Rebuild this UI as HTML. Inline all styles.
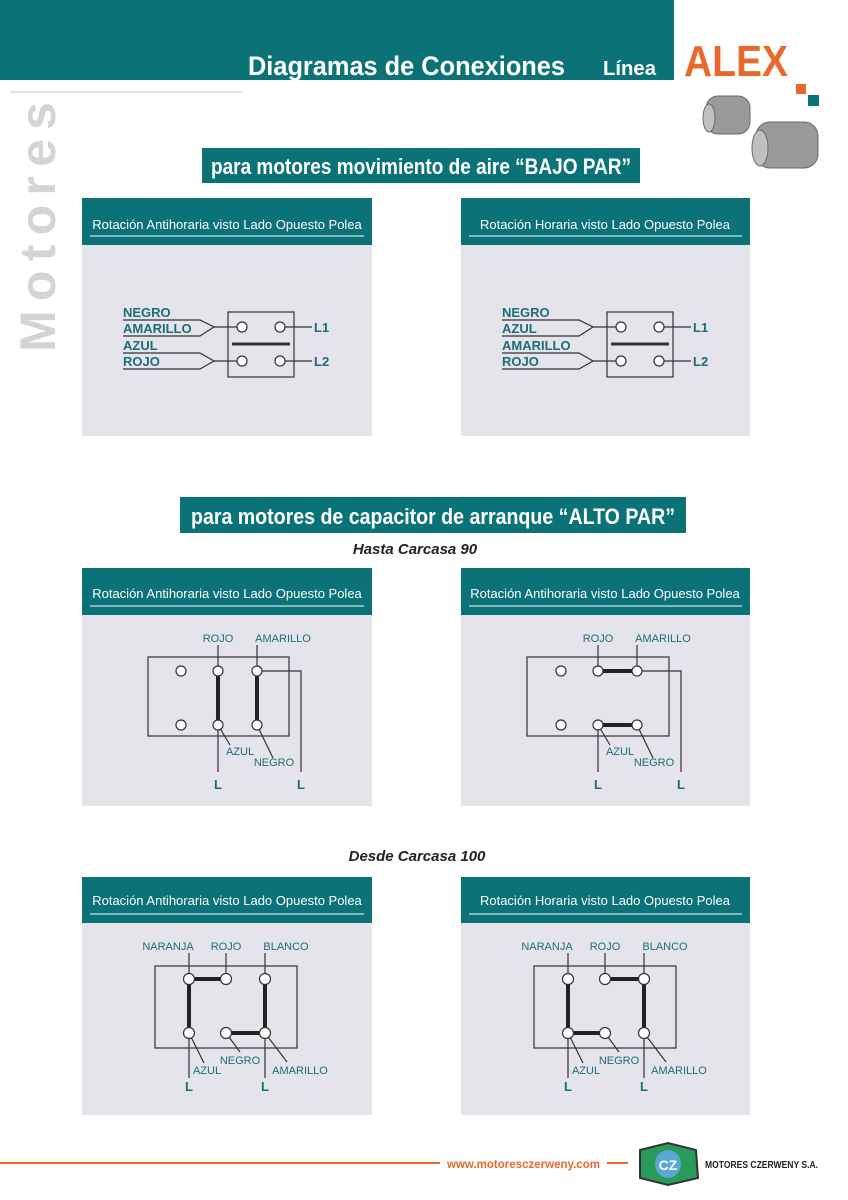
<!DOCTYPE html>
<html><head><meta charset="utf-8"><style>
html,body{margin:0;padding:0;background:#fff}
svg{display:block}
.h{font-family:"Liberation Sans",sans-serif;font-size:13px;fill:#fff}
.lb{font-family:"Liberation Sans",sans-serif;font-size:11px;fill:#1d6e78}
.lbb{font-family:"Liberation Sans",sans-serif;font-size:13px;font-weight:bold;fill:#1d6e78}
.tt{font-family:"Liberation Sans",sans-serif;font-weight:bold;fill:#fff}
</style></head><body>
<svg width="848" height="1200" viewBox="0 0 848 1200" xmlns="http://www.w3.org/2000/svg">
<rect width="848" height="1200" fill="#fff"/>
<!-- header -->
<rect x="0" y="0" width="674" height="80" fill="#0b7278"/>
<text x="248" y="75" class="tt" font-size="27" textLength="317" lengthAdjust="spacingAndGlyphs">Diagramas de Conexiones</text>
<text x="603" y="75" class="tt" font-size="20" textLength="53" lengthAdjust="spacingAndGlyphs">Línea</text>
<text x="684" y="76" font-family="Liberation Sans,sans-serif" font-weight="bold" font-size="44" fill="#e8692b" textLength="104" lengthAdjust="spacingAndGlyphs">ALEX</text>
<rect x="796" y="84" width="10" height="10" fill="#e8692b"/>
<rect x="808" y="95" width="11" height="11" fill="#0b7278"/>
<line x1="10" y1="92" x2="242" y2="92" stroke="#c8c8c8" stroke-width="1"/>
<text transform="translate(55,352) rotate(-90)" font-family="Liberation Sans,sans-serif" font-weight="bold" font-size="50" fill="#d4d4d6" textLength="250" lengthAdjust="spacing">Motores</text>
<!-- motors -->
<g fill="#9a9a9c" stroke="#6a6a6a" stroke-width="1">
<rect x="706" y="96" width="44" height="38" rx="12"/>
<ellipse cx="709" cy="118" rx="6" ry="14" fill="#c0c0c0"/>
<rect x="756" y="122" width="62" height="46" rx="14"/>
<ellipse cx="760" cy="148" rx="8" ry="18" fill="#c0c0c0"/>
</g>
<!-- section titles -->
<rect x="202" y="148" width="438" height="35" fill="#0b7278"/>
<text x="421" y="174" text-anchor="middle" class="tt" font-size="22" textLength="420" lengthAdjust="spacingAndGlyphs">para motores movimiento de aire “BAJO PAR”</text>
<rect x="180" y="497" width="506" height="36" fill="#0b7278"/>
<text x="433" y="524" text-anchor="middle" class="tt" font-size="22" textLength="484" lengthAdjust="spacingAndGlyphs">para motores de capacitor de arranque “ALTO PAR”</text>
<text x="415" y="554" text-anchor="middle" font-family="Liberation Sans,sans-serif" font-weight="bold" font-style="italic" font-size="15" fill="#222">Hasta Carcasa 90</text>
<text x="417" y="861" text-anchor="middle" font-family="Liberation Sans,sans-serif" font-weight="bold" font-style="italic" font-size="15" fill="#222">Desde Carcasa 100</text>

<!-- panels -->
<g>
<rect x="82" y="198" width="290" height="238" fill="#e4e4ea"/><rect x="82" y="198" width="290" height="47" fill="#0b7278"/>
<line x1="90" y1="236" x2="364" y2="236" stroke="#fff"/><text x="227" y="229" text-anchor="middle" class="h">Rotación Antihoraria visto Lado Opuesto Polea</text>
<rect x="461" y="198" width="289" height="238" fill="#e4e4ea"/><rect x="461" y="198" width="289" height="47" fill="#0b7278"/>
<line x1="469" y1="236" x2="742" y2="236" stroke="#fff"/><text x="605" y="229" text-anchor="middle" class="h">Rotación Horaria visto Lado Opuesto Polea</text>

<rect x="82" y="568" width="290" height="238" fill="#e4e4ea"/><rect x="82" y="568" width="290" height="47" fill="#0b7278"/>
<line x1="90" y1="606" x2="364" y2="606" stroke="#fff"/><text x="227" y="598" text-anchor="middle" class="h">Rotación Antihoraria visto Lado Opuesto Polea</text>
<rect x="461" y="568" width="289" height="238" fill="#e4e4ea"/><rect x="461" y="568" width="289" height="47" fill="#0b7278"/>
<line x1="469" y1="606" x2="742" y2="606" stroke="#fff"/><text x="605" y="598" text-anchor="middle" class="h">Rotación Antihoraria visto Lado Opuesto Polea</text>

<rect x="82" y="877" width="290" height="238" fill="#e4e4ea"/><rect x="82" y="877" width="290" height="46" fill="#0b7278"/>
<line x1="90" y1="914" x2="364" y2="914" stroke="#fff"/><text x="227" y="905" text-anchor="middle" class="h">Rotación Antihoraria visto Lado Opuesto Polea</text>
<rect x="461" y="877" width="289" height="238" fill="#e4e4ea"/><rect x="461" y="877" width="289" height="46" fill="#0b7278"/>
<line x1="469" y1="914" x2="742" y2="914" stroke="#fff"/><text x="605" y="905" text-anchor="middle" class="h">Rotación Horaria visto Lado Opuesto Polea</text>
</g>

<!-- diagram 1 left -->
<g stroke="#333" fill="none" stroke-width="1.2">
<rect x="228" y="312" width="66" height="65"/>
<path d="M123 320H200L214 327L200 336H123"/><path d="M214 327H237"/>
<path d="M123 353H200L214 361L200 369H123"/><path d="M214 361H237"/>
<path d="M285 327H312M285 361H312"/>
<line x1="232" y1="344" x2="290" y2="344" stroke-width="3"/>
<g fill="#fff"><circle cx="242" cy="327" r="5"/><circle cx="280" cy="327" r="5"/><circle cx="242" cy="361" r="5"/><circle cx="280" cy="361" r="5"/></g>
</g>
<text x="123" y="317" class="lbb">NEGRO</text><text x="123" y="333" class="lbb">AMARILLO</text><text x="123" y="350" class="lbb">AZUL</text><text x="123" y="366" class="lbb">ROJO</text>
<text x="314" y="332" class="lbb">L1</text><text x="314" y="366" class="lbb">L2</text>

<!-- diagram 1 right -->
<g transform="translate(379,0)">
<g stroke="#333" fill="none" stroke-width="1.2">
<rect x="228" y="312" width="66" height="65"/>
<path d="M123 320H200L214 327L200 336H123"/><path d="M214 327H237"/>
<path d="M123 353H200L214 361L200 369H123"/><path d="M214 361H237"/>
<path d="M285 327H312M285 361H312"/>
<line x1="232" y1="344" x2="290" y2="344" stroke-width="3"/>
<g fill="#fff"><circle cx="242" cy="327" r="5"/><circle cx="280" cy="327" r="5"/><circle cx="242" cy="361" r="5"/><circle cx="280" cy="361" r="5"/></g>
</g>
<text x="123" y="317" class="lbb">NEGRO</text><text x="123" y="333" class="lbb">AZUL</text><text x="123" y="350" class="lbb">AMARILLO</text><text x="123" y="366" class="lbb">ROJO</text>
<text x="314" y="332" class="lbb">L1</text><text x="314" y="366" class="lbb">L2</text>
</g>

<!-- diagram 2 left -->
<g stroke="#333" fill="none" stroke-width="1.2">
<rect x="148" y="657" width="141" height="79"/>
<path d="M218 645V671M257 645V671"/>
<path d="M257 671H301V772"/><path d="M218 725V772"/>
<path d="M218 725L230 745M257 725L273 758"/>
<path d="M218 671V725M257 671V725" stroke-width="4" stroke="#222"/>
<g fill="#fff"><circle cx="181" cy="671" r="5"/><circle cx="218" cy="671" r="5"/><circle cx="257" cy="671" r="5"/><circle cx="181" cy="725" r="5"/><circle cx="218" cy="725" r="5"/><circle cx="257" cy="725" r="5"/></g>
</g>
<text x="218" y="642" text-anchor="middle" class="lb">ROJO</text><text x="283" y="642" text-anchor="middle" class="lb">AMARILLO</text>
<text x="240" y="755" text-anchor="middle" class="lb">AZUL</text><text x="274" y="766" text-anchor="middle" class="lb">NEGRO</text>
<text x="218" y="789" text-anchor="middle" class="lbb">L</text><text x="301" y="789" text-anchor="middle" class="lbb">L</text>

<!-- diagram 2 right -->
<g transform="translate(380,0)">
<g stroke="#333" fill="none" stroke-width="1.2">
<rect x="147" y="657" width="142" height="79"/>
<path d="M218 645V671M257 645V671"/>
<path d="M257 671H301V772"/><path d="M218 725V772"/>
<path d="M218 725L230 745M257 725L273 758"/>
<path d="M218 671H257M218 725H257" stroke-width="4" stroke="#222"/>
<g fill="#fff"><circle cx="181" cy="671" r="5"/><circle cx="218" cy="671" r="5"/><circle cx="257" cy="671" r="5"/><circle cx="181" cy="725" r="5"/><circle cx="218" cy="725" r="5"/><circle cx="257" cy="725" r="5"/></g>
</g>
<text x="218" y="642" text-anchor="middle" class="lb">ROJO</text><text x="283" y="642" text-anchor="middle" class="lb">AMARILLO</text>
<text x="240" y="755" text-anchor="middle" class="lb">AZUL</text><text x="274" y="766" text-anchor="middle" class="lb">NEGRO</text>
<text x="218" y="789" text-anchor="middle" class="lbb">L</text><text x="301" y="789" text-anchor="middle" class="lbb">L</text>
</g>

<!-- diagram 3 left -->
<g stroke="#333" fill="none" stroke-width="1.2">
<rect x="155" y="966" width="142" height="82"/>
<path d="M189 953V979M226 953V979M265 953V979"/>
<path d="M189 1033V1078M265 1033V1078"/>
<path d="M189 1033L204 1063M226 1033L240 1052M265 1033L287 1062"/>
<path d="M226 979H189V1033M265 979V1033H226" stroke-width="4" stroke="#222"/>
<g fill="#fff"><circle cx="189" cy="979" r="5.5"/><circle cx="226" cy="979" r="5.5"/><circle cx="265" cy="979" r="5.5"/><circle cx="189" cy="1033" r="5.5"/><circle cx="226" cy="1033" r="5.5"/><circle cx="265" cy="1033" r="5.5"/></g>
</g>
<text x="168" y="950" text-anchor="middle" class="lb">NARANJA</text><text x="226" y="950" text-anchor="middle" class="lb">ROJO</text><text x="286" y="950" text-anchor="middle" class="lb">BLANCO</text>
<text x="207" y="1074" text-anchor="middle" class="lb">AZUL</text><text x="240" y="1064" text-anchor="middle" class="lb">NEGRO</text><text x="300" y="1074" text-anchor="middle" class="lb">AMARILLO</text>
<text x="189" y="1091" text-anchor="middle" class="lbb">L</text><text x="265" y="1091" text-anchor="middle" class="lbb">L</text>

<!-- diagram 3 right -->
<g transform="translate(379,0)">
<g stroke="#333" fill="none" stroke-width="1.2">
<rect x="155" y="966" width="142" height="82"/>
<path d="M189 953V979M226 953V979M265 953V979"/>
<path d="M189 1033V1078M265 1033V1078"/>
<path d="M189 1033L204 1063M226 1033L240 1052M265 1033L287 1062"/>
<path d="M226 979H265V1033M189 979V1033H226" stroke-width="4" stroke="#222"/>
<g fill="#fff"><circle cx="189" cy="979" r="5.5"/><circle cx="226" cy="979" r="5.5"/><circle cx="265" cy="979" r="5.5"/><circle cx="189" cy="1033" r="5.5"/><circle cx="226" cy="1033" r="5.5"/><circle cx="265" cy="1033" r="5.5"/></g>
</g>
<text x="168" y="950" text-anchor="middle" class="lb">NARANJA</text><text x="226" y="950" text-anchor="middle" class="lb">ROJO</text><text x="286" y="950" text-anchor="middle" class="lb">BLANCO</text>
<text x="207" y="1074" text-anchor="middle" class="lb">AZUL</text><text x="240" y="1064" text-anchor="middle" class="lb">NEGRO</text><text x="300" y="1074" text-anchor="middle" class="lb">AMARILLO</text>
<text x="189" y="1091" text-anchor="middle" class="lbb">L</text><text x="265" y="1091" text-anchor="middle" class="lbb">L</text>
</g>

<!-- footer -->
<line x1="0" y1="1163" x2="440" y2="1163" stroke="#e8692b" stroke-width="2"/>
<text x="447" y="1168" font-family="Liberation Sans,sans-serif" font-weight="bold" font-size="12" fill="#e8692b" textLength="153" lengthAdjust="spacingAndGlyphs">www.motoresczerweny.com</text>
<line x1="607" y1="1163" x2="628" y2="1163" stroke="#e8692b" stroke-width="2"/>
<path d="M640 1150L668 1143L696 1150L698 1178L668 1185L640 1178Z" fill="#2a9a5a" stroke="#333" stroke-width="2"/>
<ellipse cx="668" cy="1164" rx="13" ry="14" fill="#5aa8d8"/>
<text x="668" y="1170" text-anchor="middle" font-family="Liberation Sans,sans-serif" font-weight="bold" font-size="14" fill="#fff">CZ</text>
<text x="705" y="1168" font-family="Liberation Sans,sans-serif" font-weight="bold" font-size="10" fill="#222" textLength="113" lengthAdjust="spacingAndGlyphs">MOTORES CZERWENY S.A.</text>
</svg>
</body></html>
